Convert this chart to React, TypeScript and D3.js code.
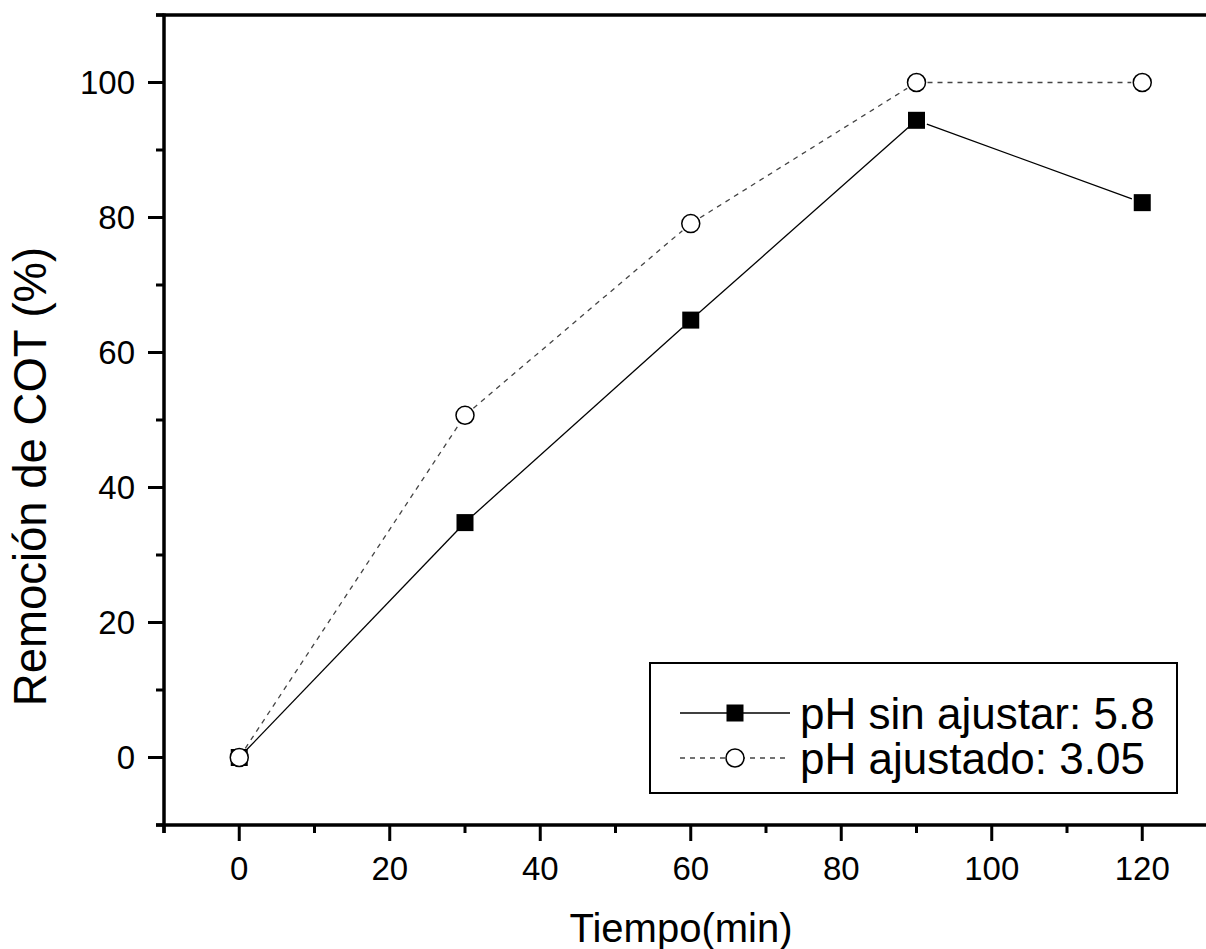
import React from "react";
import * as d3 from "d3";

const tiempo = [0, 30, 60, 90, 120];
const sinAjustar = [0, 34.8, 64.8, 94.4, 82.2];
const ajustado = [0, 50.7, 79.1, 100, 100];
const xTicks = [0, 20, 40, 60, 80, 100, 120];
const yTicks = [0, 20, 40, 60, 80, 100];
const seriesNames = ["pH sin ajustar: 5.8", "pH ajustado: 3.05"];

const W = 1206;
const H = 949;
const font = "'Liberation Sans', Arial, sans-serif";

// gap between line and marker, like Origin draws it
function segments(pts, gap) {
	let out = [];
	for (let i = 0; i < pts.length - 1; i++) {
		let [x1, y1] = pts[i];
		let [x2, y2] = pts[i + 1];
		let dx = x2 - x1, dy = y2 - y1;
		let len = Math.sqrt(dx * dx + dy * dy);
		if (len <= 2 * gap) continue;
		let ux = dx / len, uy = dy / len;
		out.push([x1 + ux * gap, y1 + uy * gap, x2 - ux * gap, y2 - uy * gap]);
	}
	return out;
}

export default function App() {
	let x = d3.scaleLinear().domain([-10, 130]).range([164, 164 + 140 * 7.525]);
	let y = d3.scaleLinear().domain([-10, 110]).range([825, 15]);

	let minorY = d3.range(-10, 111, 10).filter(v => v % 20 !== 0);
	let minorX = d3.range(-10, 131, 10).filter(v => v % 20 !== 0);

	let ptsA = tiempo.map((t, i) => [x(t), y(sinAjustar[i])]);
	let ptsB = tiempo.map((t, i) => [x(t), y(ajustado[i])]);

	let x0 = x(-10);
	let yb = y(-10);
	let yt = y(110);

	return (
		<svg width={W} height={H} style={{ position: "absolute", left: 0, top: 0, background: "white" }}>
			{/* lines */}
			{segments(ptsB, 11).map((s, i) => (
				<line key={"b" + i} x1={s[0]} y1={s[1]} x2={s[2]} y2={s[3]} stroke="#444" strokeWidth={1.3} strokeDasharray="5,5" />
			))}
			{segments(ptsA, 11).map((s, i) => (
				<line key={"a" + i} x1={s[0]} y1={s[1]} x2={s[2]} y2={s[3]} stroke="black" strokeWidth={1.3} />
			))}
			{ptsA.map((p, i) => (
				<rect key={"sa" + i} x={p[0] - 8.5} y={p[1] - 8.5} width={17} height={17} fill="black" />
			))}
			{ptsB.map((p, i) => (
				<circle key={"cb" + i} cx={p[0]} cy={p[1]} r={9} fill="white" stroke="black" strokeWidth={1.5} />
			))}

			{/* axes */}
			<line x1={156} x2={W} y1={yt} y2={yt} stroke="black" strokeWidth={3.5} />
			<line x1={156} x2={W} y1={yb} y2={yb} stroke="black" strokeWidth={3.5} />
			<line x1={x0} x2={x0} y1={yt - 1.5} y2={yb + 8} stroke="black" strokeWidth={3.5} />

			{yTicks.map(v => (
				<g key={"yt" + v}>
					<line x1={x0 - 16} x2={x0} y1={y(v)} y2={y(v)} stroke="black" strokeWidth={3} />
					<text x={x0 - 29} y={y(v)} dy="0.36em" textAnchor="end" fontFamily={font} fontSize={33}>{v}</text>
				</g>
			))}
			{minorY.map(v => (
				<line key={"ym" + v} x1={x0 - 8} x2={x0} y1={y(v)} y2={y(v)} stroke="black" strokeWidth={3} />
			))}
			{xTicks.map(v => (
				<g key={"xt" + v}>
					<line x1={x(v)} x2={x(v)} y1={yb} y2={yb + 16} stroke="black" strokeWidth={3} />
					<text x={x(v)} y={880} textAnchor="middle" fontFamily={font} fontSize={33}>{v}</text>
				</g>
			))}
			{minorX.map(v => (
				<line key={"xm" + v} x1={x(v)} x2={x(v)} y1={yb} y2={yb + 8} stroke="black" strokeWidth={3} />
			))}

			{/* titles */}
			<text x={681} y={942} textAnchor="middle" fontFamily={font} fontSize={40}>Tiempo(min)</text>
			<text transform={`translate(46, ${(248 + 705) / 2}) rotate(-90)`} textAnchor="middle" fontFamily={font} fontSize={45.5}>Remoción de COT (%)</text>

			{/* legend */}
			<rect x={650} y={663} width={527} height={130} fill="white" stroke="black" strokeWidth={2} />
			<line x1={680} x2={790} y1={713} y2={713} stroke="black" strokeWidth={1.3} />
			<rect x={735 - 8.5} y={713 - 8.5} width={17} height={17} fill="black" />
			<text x={800} y={729} fontFamily={font} fontSize={44}>{seriesNames[0]}</text>
			<line x1={680} x2={790} y1={758} y2={758} stroke="#444" strokeWidth={1.3} strokeDasharray="5,5" />
			<circle cx={735} cy={758} r={9} fill="white" stroke="black" strokeWidth={1.5} />
			<text x={800} y={774} fontFamily={font} fontSize={44}>{seriesNames[1]}</text>
		</svg>
	);
}
